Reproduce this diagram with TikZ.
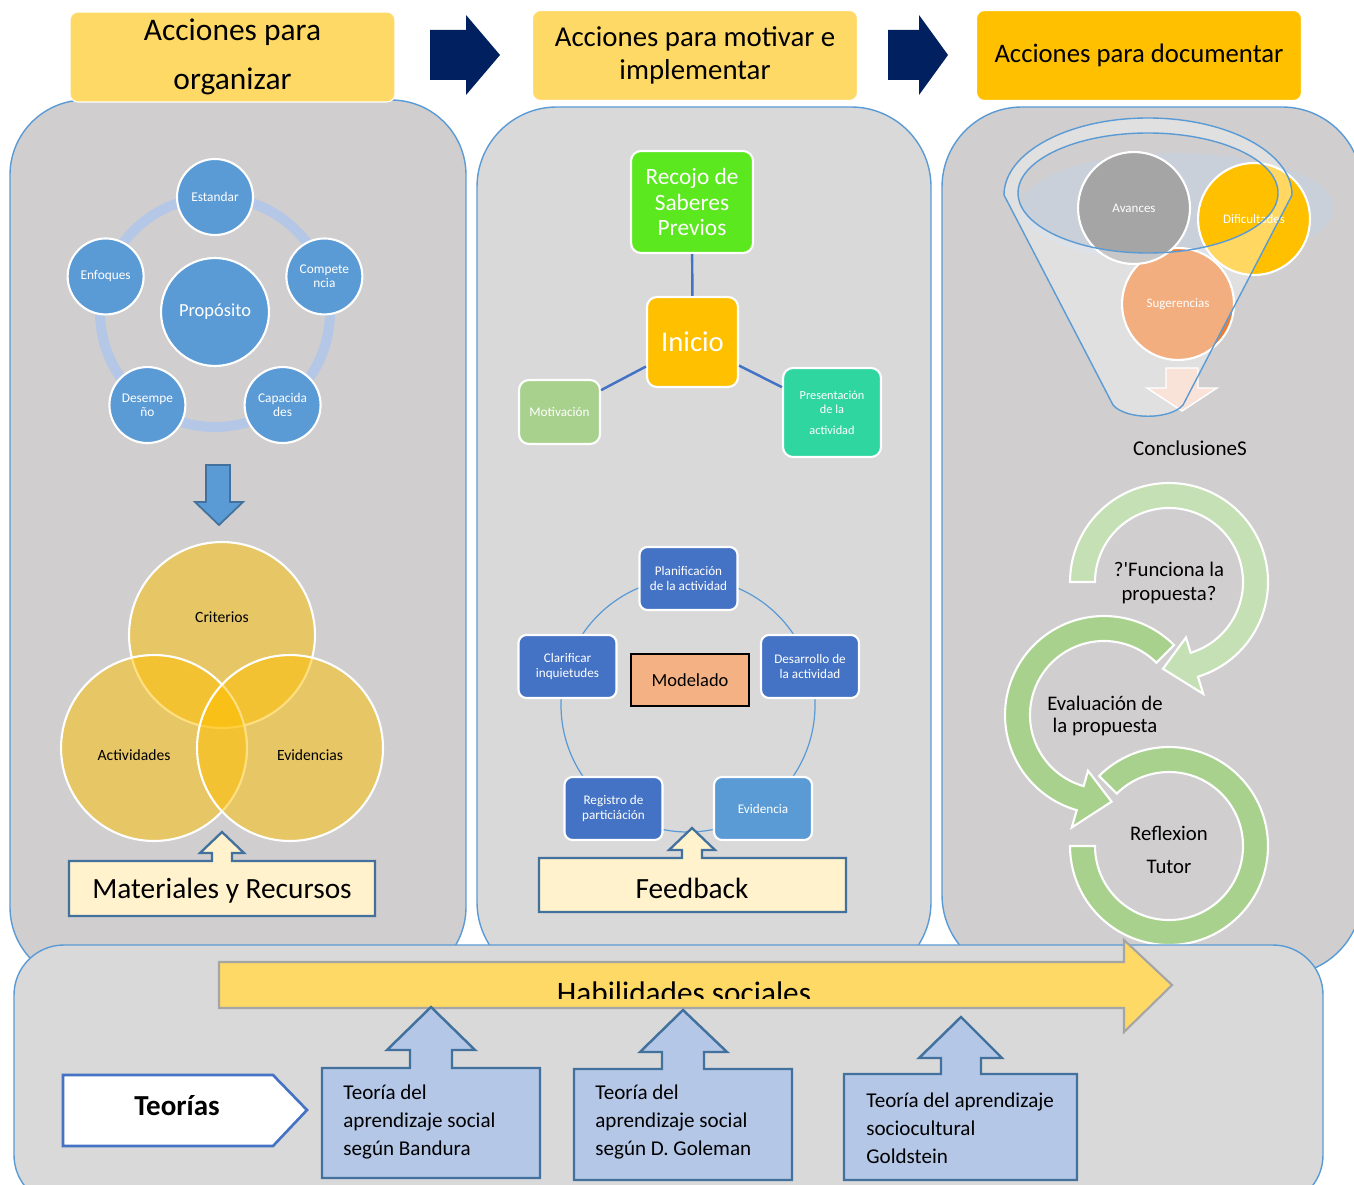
\documentclass[tikz,border=0pt]{standalone}
\usepackage{fontspec}
\setmainfont{Carlito}
\usepackage{tikz}
\usetikzlibrary{calc}
\usetikzlibrary{positioning}

\definecolor{titleyellow}{HTML}{FFD966}
\definecolor{titleorange}{HTML}{FFC000}
\definecolor{navy}{HTML}{002060}
\definecolor{panelgray}{HTML}{D0CECE}
\definecolor{panellight}{HTML}{D9D9D9}
\definecolor{panelline}{HTML}{5B9BD5}
\definecolor{nodeblue}{HTML}{5B9BD5}
\definecolor{ringblue}{HTML}{B4C7E7}
\definecolor{darkblue}{HTML}{4472C4}
\definecolor{steelblue}{HTML}{41719C}
\definecolor{cream}{HTML}{FFF2CC}
\definecolor{palegreen}{HTML}{C5E0B4}
\definecolor{leafgreen}{HTML}{A9D18E}
\definecolor{limegreen}{HTML}{5BE81E}
\definecolor{mint}{HTML}{2FD6A0}
\definecolor{salmon}{HTML}{F4B183}
\definecolor{deeporange}{HTML}{ED7D31}
\definecolor{stonegray}{HTML}{A5A5A5}
\definecolor{blush}{HTML}{F9E3D8}
\definecolor{mist}{HTML}{C9D0DA}
\definecolor{arrowgray}{HTML}{A5A5A5}

\begin{document}
\begin{tikzpicture}
		[x=0.02cm, y=-0.02cm,
		font=\fontsize{8}{10}\selectfont,
		link/.style={draw=darkblue,line width=1.4pt}
		]
		
		% Box and circle styles
		\tikzstyle{title box}=[rectangle,rounded corners=0.16cm,draw=white,line width=0.6pt,minimum width=6.5cm,minimum height=1.8cm,align=center,inner sep=0];
		\tikzstyle{pent node}=[circle,fill=nodeblue,draw=white,line width=1.2pt,text=white,minimum size=1.52cm,inner sep=0,align=center,font=\fontsize{7.6}{8}\selectfont];
		\tikzstyle{venn circle}=[circle,fill=titleorange,fill opacity=0.5,draw=white,line width=1.2pt,minimum size=3.72cm];
		\tikzstyle{venn text}=[font=\fontsize{8.9}{10}\selectfont];
		\tikzstyle{callout}=[fill=cream,draw=steelblue,line width=1.3pt];
		\tikzstyle{big text}=[font=\fontsize{16.7}{19}\selectfont];
		\tikzstyle{mid box}=[rectangle,rounded corners=0.2cm,draw=white,line width=1.2pt,text=white,align=center,inner sep=0];
		\tikzstyle{cycle box}=[mid box,rounded corners=0.16cm,fill=darkblue,minimum width=1.96cm,minimum height=1.26cm,font=\fontsize{7.5}{8.5}\selectfont];
		\tikzstyle{doc circle}=[circle,draw=white,line width=1.2pt,text=white,minimum size=2.24cm,inner sep=0,font=\fontsize{7.4}{9}\selectfont];
		\tikzstyle{ring}=[draw=white,line width=1.2pt];
		\tikzstyle{ring text}=[align=center,font=\fontsize{11.8}{13.6}\selectfont];
		\tikzstyle{theory box}=[fill=ringblue,draw=steelblue,line width=1.4pt];
		\tikzstyle{theory text}=[anchor=west,align=left,inner sep=0,font=\fontsize{12}{15.9}\selectfont];
		
		% Page
		\useasboundingbox (0,0) rectangle (1354,1185);
		\clip (0,0) rectangle (1354,1185);
		\fill[white] (0,0) rectangle (1354,1185);
		
		% Panels
		\draw[panelline,fill=panelgray,line width=0.8pt,rounded corners=1.5cm] (10,100) rectangle (466,982);
		\draw[panelline,fill=panellight,line width=0.8pt,rounded corners=1.6cm] (477,107) rectangle (931,982);
		\draw[panelline,fill=panelgray,line width=0.8pt,rounded corners=1.6cm] (942,107) rectangle (1362,975);
		
		% Titles
		\node[title box,fill=titleyellow,font=\fontsize{17.9}{28.3}\selectfont] (organizar) at (232.5,57) {Acciones para\\organizar};
		\node[title box,fill=titleyellow,font=\fontsize{16.4}{18.7}\selectfont] (motivar) at (695,55.5) {Acciones para motivar e\\implementar};
		\node[title box,fill=titleorange,font=\fontsize{15.2}{18}\selectfont] (documentar) at (1139,55.5) {Acciones para documentar};
		\fill[navy] (430,30) -- (466,30) -- (466,15) -- (500,55) -- (466,95) -- (466,80) -- (430,80) -- cycle;
		\fill[navy] (888,30) -- (919,30) -- (919,15) -- (948,55) -- (919,95) -- (919,80) -- (888,80) -- cycle;
		
		% Organizar: pentagon
		\coordinate (pentcenter) at (215,312);
		\draw[ringblue,line width=0.2cm] (pentcenter) circle[radius=115];
		\node[pent node,minimum size=2.16cm,font=\fontsize{10.5}{12}\selectfont] (proposito) at (pentcenter) {Propósito};
		\foreach \name/\ang/\txt in {estandar/-90/Estandar, competencia/-18/{Compete\\ncia}, capacidades/54/{Capacida\\des}, desempeno/126/{Desempe\\ño}, enfoques/198/Enfoques}
			\node[pent node] (\name) at ($(pentcenter)+(\ang:115)$) {\txt};
		\filldraw[fill=nodeblue,draw=steelblue,line width=1pt] (206,465) -- (230,465) -- (230,502) -- (243,502) -- (219,525) -- (195,502) -- (206,502) -- cycle;
		
		% Organizar: Venn
		\node[venn circle] (criterios) at (222,635) {};
		\node[venn circle] (actividades) at (154,748) {};
		\node[venn circle] (evidencias) at (290,748) {};
		\node[venn text] (criterioslabel) at (222,617) {Criterios};
		\node[venn text] (actividadeslabel) at (134,755) {Actividades};
		\node[venn text] (evidenciaslabel) at (310,755) {Evidencias};
		\filldraw[callout] (69,861) -- (212,861) -- (212,853) -- (200,853) -- (222,832) -- (244,853) -- (232,853) -- (232,861) -- (375,861) -- (375,916) -- (69,916) -- cycle;
		\node[big text] (materiales) at (222,891) {Materiales y Recursos};
		
		% Motivar: inicio
		\node[mid box,fill=limegreen,minimum width=2.44cm,minimum height=2.04cm,font=\fontsize{13.3}{14.7}\selectfont] (recojo) at (692,202) {Recojo de\\Saberes\\Previos};
		\node[mid box,fill=titleorange,minimum width=1.82cm,minimum height=1.8cm,font=\fontsize{16.3}{19}\selectfont] (inicio) at (692.5,342) {Inicio};
		\node[mid box,fill=leafgreen,minimum width=1.62cm,minimum height=1.28cm,font=\fontsize{7.5}{9}\selectfont] (motivacion) at (559.5,412) {Motivación};
		\node[mid box,fill=mint,minimum width=1.96cm,minimum height=1.78cm,font=\fontsize{7}{8}\selectfont] (presentacion) at (832,412.5) {Presentación\\de la\\[4pt]actividad};
		\draw[link] (recojo) -- (inicio);
		\draw[link] (inicio) -- (motivacion);
		\draw[link] (inicio) -- (presentacion);
		
		% Motivar: cycle
		\coordinate (cyclecenter) at (688,705);
		\draw[panelline,line width=0.7pt] (cyclecenter) circle[radius=127];
		\node[cycle box] (planificacion) at (688.5,578.5) {Planificación\\de la actividad};
		\node[cycle box] (clarificar) at (567.5,666.5) {Clarificar\\inquietudes};
		\node[cycle box] (desarrollo) at (810,666.5) {Desarrollo de\\la actividad};
		\node[cycle box] (registro) at (613.5,808.5) {Registro de\\particiáción};
		\node[cycle box,fill=nodeblue] (evidencia) at (763,808.5) {Evidencia};
		\node[rectangle,fill=salmon,draw=black,line width=1.2pt,minimum width=2.36cm,minimum height=1.04cm,font=\fontsize{10.5}{12}\selectfont] (modelado) at (690,680) {Modelado};
		\filldraw[callout] (539,858) -- (682,858) -- (682,850) -- (669,850) -- (692,828) -- (715,850) -- (702,850) -- (702,858) -- (846,858) -- (846,912) -- (539,912) -- cycle;
		\node[big text] (feedback) at (692,888) {Feedback};
		
		% Documentar: funnel
		\fill[mist] (1177,208) ellipse[x radius=157,y radius=55];
		\node[doc circle,fill=deeporange] (sugerencias) at (1178,304) {Sugerencias};
		\node[doc circle,fill=stonegray] (avances) at (1134,208) {Avances};
		\node[doc circle,fill=titleorange] (dificultades) at (1254,219) {Dificultades};
		\fill[white,fill opacity=0.38,even odd rule] (1004,195) arc[start angle=180,end angle=360,x radius=144,y radius=77] -- (1183,405) .. controls (1170,420) and (1126,420) .. (1113,405) -- cycle (1148,193) ellipse[x radius=130,y radius=60];
		\filldraw[fill=blush,draw=white,line width=0.8pt] (1166,368) -- (1198,368) -- (1198,388) -- (1217,388) -- (1182,411) -- (1147,388) -- (1166,388) -- cycle;
		\draw[panelline,line width=0.8pt] (1004,195) arc[start angle=180,end angle=360,x radius=144,y radius=77] -- (1183,405) .. controls (1170,420) and (1126,420) .. (1113,405) -- cycle;
		\draw[panelline,line width=0.8pt] (1148,193) ellipse[x radius=130,y radius=60];
		\node[font=\fontsize{12}{14}\selectfont] (conclusiones) at (1190,448) {ConclusioneS};
		
		% Documentar: circular arrows
		\coordinate (c1) at (1169,582);
		\coordinate (c2) at (1104,715);
		\coordinate (c3) at (1169,846);
		\filldraw[ring,fill=palegreen] ($(c1)+(180:99)$) arc[start angle=180,end angle=433,radius=99] -- ($(c1)+(73:117)$) -- ($(c1)+(94:87)$) -- ($(c1)+(73:58)$) -- ($(c1)+(73:74)$) arc[start angle=433,end angle=180,radius=74] -- cycle;
		\filldraw[ring,fill=leafgreen] ($(c2)+(315:99)$) arc[start angle=315,end angle=106,radius=99] -- ($(c2)+(106:117)$) -- ($(c2)+(85:87)$) -- ($(c2)+(106:58)$) -- ($(c2)+(106:74)$) arc[start angle=106,end angle=315,radius=74] -- cycle;
		\filldraw[ring,fill=leafgreen] ($(c3)+(225:99)$) arc[start angle=225,end angle=540,radius=99] -- ($(c3)+(180:74)$) arc[start angle=540,end angle=225,radius=74] -- cycle;
		\node[ring text] (funciona) at (1169,583) {?\textquotesingle Funciona la\\propuesta?};
		\node[ring text,font=\fontsize{11.8}{13}\selectfont] (evaluacion) at (1105,716) {Evaluación de\\la propuesta};
		\node[ring text,font=\fontsize{11.8}{18.7}\selectfont] (reflexion) at (1169,850) {Reflexion\\Tutor};
		
		% Theories band
		\draw[panelline,fill=panellight,line width=0.8pt,rounded corners=1cm] (14,945) rectangle (1323,1205);
		\filldraw[fill=titleyellow,draw=arrowgray,line width=1.2pt] (219,962) -- (1124,962) -- (1124,940) -- (1172,985) -- (1124,1032) -- (1124,1008) -- (219,1008) -- cycle;
		\begin{scope}
			\clip (219,962) rectangle (1124,998);
			\node[anchor=base,font=\fontsize{17.8}{20}\selectfont] (habilidades) at (684,1003) {Habilidades sociales};
		\end{scope}
		\filldraw[fill=white,draw=darkblue,line width=1.5pt] (63,1075) -- (273,1075) -- (307,1110) -- (273,1146) -- (63,1146) -- cycle;
		\node[font=\fontsize{16.5}{18}\selectfont\bfseries] (teorias) at (177,1106) {Teorías};
		\filldraw[theory box] (322,1068) -- (410,1068) -- (410,1050) -- (387,1050) -- (431,1007) -- (475,1050) -- (452,1050) -- (452,1068) -- (540,1068) -- (540,1178) -- (322,1178) -- cycle;
		\filldraw[theory box] (574,1069) -- (662,1069) -- (662,1052) -- (640,1052) -- (683,1010) -- (727,1052) -- (704,1052) -- (704,1069) -- (792,1069) -- (792,1180) -- (574,1180) -- cycle;
		\filldraw[theory box] (844,1074) -- (941,1074) -- (941,1058) -- (919,1058) -- (961,1017) -- (1002,1058) -- (981,1058) -- (981,1074) -- (1077,1074) -- (1077,1180) -- (844,1180) -- cycle;
		\node[theory text] (bandura) at (343,1122) {Teoría del\\aprendizaje social\\según Bandura};
		\node[theory text] (goleman) at (595,1122) {Teoría del\\aprendizaje social\\según D. Goleman};
		\node[theory text] (goldstein) at (866,1128) {Teoría del aprendizaje\\sociocultural\\Goldstein};
\end{tikzpicture}
\end{document}
